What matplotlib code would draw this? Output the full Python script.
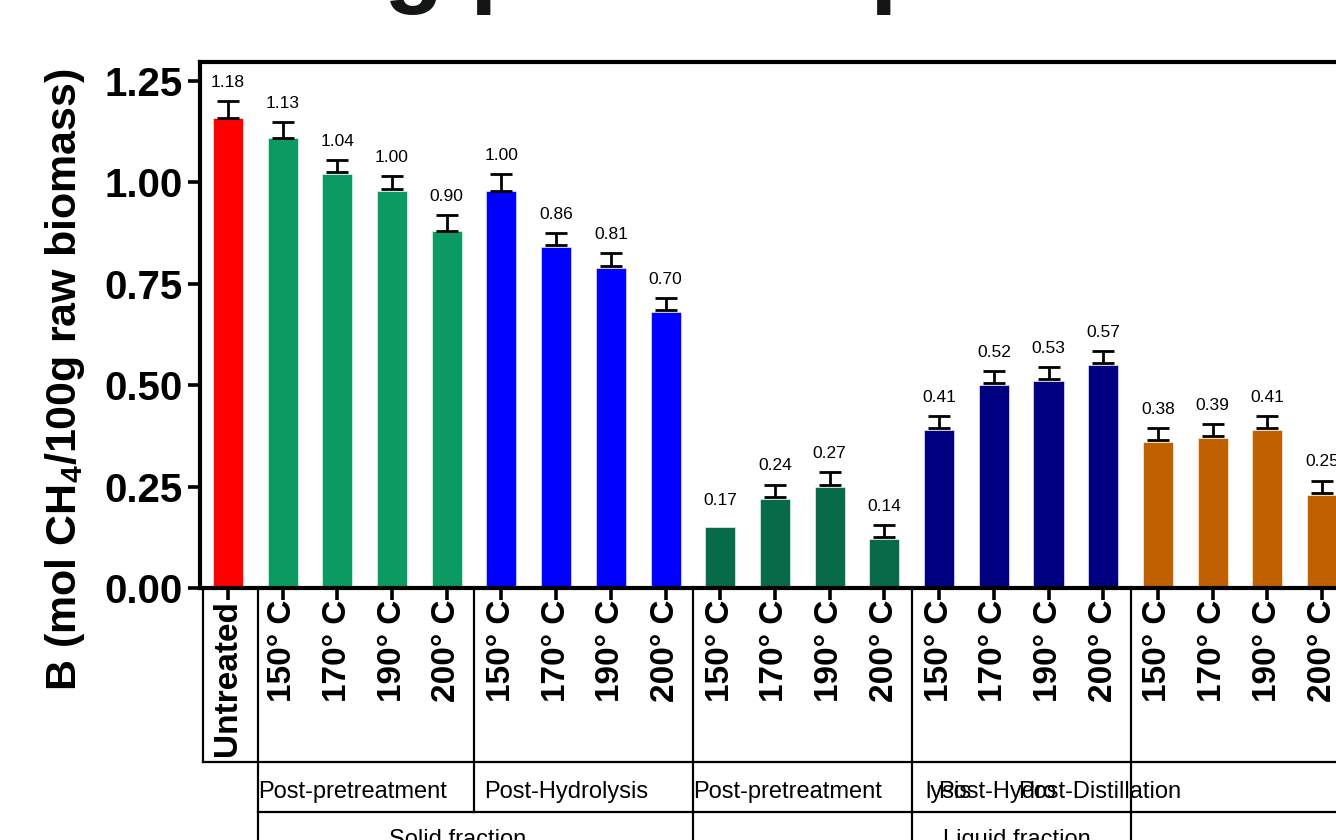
import matplotlib.pyplot as plt
import matplotlib.transforms as mtransforms

plt.rcParams['font.family'] = ['Liberation Sans', 'DejaVu Sans']
plt.rcParams['mathtext.fontset'] = 'custom'
plt.rcParams['mathtext.rm'] = 'Liberation Sans:bold'
plt.rcParams['mathtext.default'] = 'rm'

# data
tick_labels = ['Untreated'] + ['150° C', '170° C', '190° C', '200° C'] * 5
bar_vals = [1.16,
            1.11, 1.02, 0.98, 0.88,
            0.98, 0.84, 0.79, 0.68,
            0.15, 0.22, 0.25, 0.12,
            0.39, 0.50, 0.51, 0.55,
            0.36, 0.37, 0.39, 0.23]
mean_vals = [1.18,
             1.13, 1.04, 1.00, 0.90,
             1.00, 0.86, 0.81, 0.70,
             0.17, 0.24, 0.27, 0.14,
             0.41, 0.52, 0.53, 0.57,
             0.38, 0.39, 0.41, 0.25]
sd_vals = [0.02,
           0.02, 0.015, 0.015, 0.02,
           0.02, 0.015, 0.015, 0.015,
           0.0, 0.015, 0.015, 0.015,
           0.015, 0.015, 0.015, 0.015,
           0.015, 0.015, 0.015, 0.015]
group_colors = ['#FF0000', '#0C9A63', '#0000FF', '#076B4A', '#000080', '#C06000']
group_sizes = [1, 4, 4, 4, 4, 4]

colors = []
for c, n in zip(group_colors, group_sizes):
    colors += [c] * n
x = list(range(len(bar_vals)))

fig = plt.figure(figsize=(13.36, 8.4), dpi=100)
ax = fig.add_axes([200 / 1336, 252 / 840, 1156 / 1336, 526 / 840])

ax.bar(x, bar_vals, width=0.55, color=colors, edgecolor='white', linewidth=0.4, zorder=2)
# bars with no visible spread get no error bar
ex = [xi for xi, s in zip(x, sd_vals) if s > 0]
em = [m for m, s in zip(mean_vals, sd_vals) if s > 0]
es = [s for s in sd_vals if s > 0]
ax.errorbar(ex, em, yerr=es, fmt='none', ecolor='black',
            elinewidth=2.0, capsize=8, capthick=2.0, zorder=3)
for xi, m, s in zip(x, mean_vals, sd_vals):
    ax.annotate(f'{m:.2f}', (xi, m + s), xytext=(0, 8), textcoords='offset points',
                ha='center', va='bottom', fontsize=12.5)

ax.set_xlim(-0.51, 20.62)
ax.set_ylim(0, 1.297)
ax.set_yticks([0, 0.25, 0.5, 0.75, 1.0, 1.25])
ax.set_yticklabels(['0.00', '0.25', '0.50', '0.75', '1.00', '1.25'],
                   fontsize=29, fontweight='bold')
ax.set_xticks(x)
ax.set_xticklabels(tick_labels, rotation=90, fontsize=24, fontweight='bold')
ax.tick_params(axis='both', direction='out', length=8.5, width=2.6)
ax.tick_params(axis='x', pad=0)
ax.tick_params(axis='y', pad=4)
for sp in ax.spines.values():
    sp.set_linewidth(3)

fig.text(65 / 1336, 0.548, 'B (mol CH$_4$/100g raw biomass)', rotation=90,
         ha='center', va='center', fontsize=31, fontweight='bold')

# title, mostly cropped off the top
fig.text(168 / 1336, 1.006, 'Along process phases', fontsize=70, fontweight='bold',
         color='#141616', va='baseline', ha='left')

# table under the axis
trans = mtransforms.blended_transform_factory(ax.transData, fig.transFigure)
row1_y, row2_y = 78 / 840, 28 / 840
axis_y = 251 / 840
lw = 1.6
ax.plot([-0.46, -0.46], [axis_y, row1_y], color='black', lw=lw, transform=trans, clip_on=False)
ax.plot([-0.46, 21], [row1_y, row1_y], color='black', lw=lw, transform=trans, clip_on=False)
ax.plot([0.55, 21], [row2_y, row2_y], color='black', lw=lw, transform=trans, clip_on=False)
full_lines = [0.55, 8.5, 12.5, 16.5]
for b in full_lines:
    ax.plot([b, b], [axis_y, 0], color='black', lw=lw, transform=trans, clip_on=False)
ax.plot([4.5, 4.5], [axis_y, row2_y], color='black', lw=lw, transform=trans, clip_on=False)

stage_texts = ['Post-pretreatment', 'Post-Hydrolysis', 'Post-pretreatment',
               'lysis', 'Post-Hydro', 'Post-Distillation']
stage_x = [0.56, 4.69, 8.5, 12.74, 12.98, 14.44]
for t, sx in zip(stage_texts, stage_x):
    ax.text(sx, 48 / 840, t, transform=trans, ha='left', va='center', fontsize=17)

fraction_texts = ['Solid fraction', 'Liquid fraction']
fraction_x = [4.2, 14.43]
for t, fx in zip(fraction_texts, fraction_x):
    ax.text(fx, 0.0, t, transform=trans, ha='center', va='center', fontsize=17)

fig.savefig('out.png', dpi=100)
